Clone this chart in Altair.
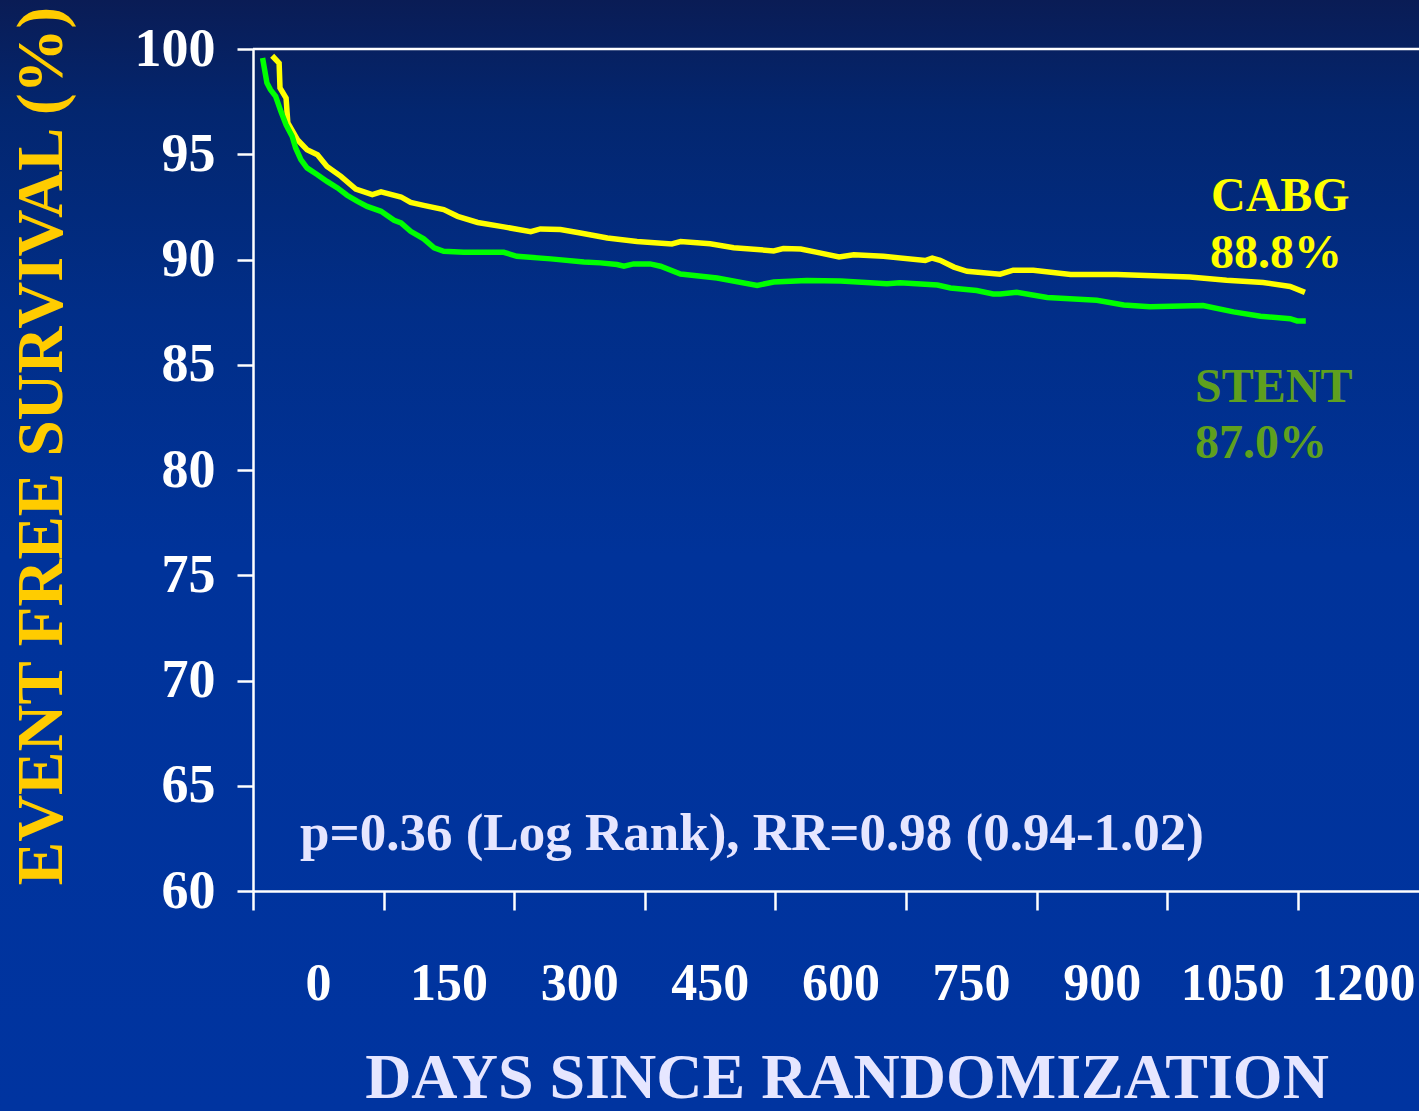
import altair as alt
import pandas as pd

# Kaplan-Meier style event free survival curves (days, percent)
cabg_days = [22, 30, 31, 38, 40, 51, 62, 74, 85, 101, 118, 137, 147, 170, 181, 196,
             219, 235, 258, 288, 319, 330, 353, 376, 407, 441, 481, 491, 525, 552,
             598, 609, 629, 648, 673, 690, 724, 772, 780, 789, 805, 820, 858, 873,
             896, 939, 992, 1076, 1118, 1160, 1191, 1208]
cabg_surv = [99.68, 99.33, 98.15, 97.67, 96.49, 95.69, 95.22, 94.98, 94.42, 93.95,
             93.35, 93.08, 93.21, 92.97, 92.71, 92.57, 92.37, 92.05, 91.76, 91.55,
             91.32, 91.45, 91.42, 91.26, 91.02, 90.86, 90.74, 90.85, 90.75, 90.56,
             90.41, 90.52, 90.50, 90.34, 90.12, 90.22, 90.15, 89.95, 90.07, 89.96,
             89.64, 89.44, 89.30, 89.49, 89.49, 89.29, 89.29, 89.17, 89.01, 88.91,
             88.72, 88.44]

stent_days = [11, 16, 20, 26, 32, 38, 45, 49, 55, 62, 74, 85, 97, 108, 120, 131,
              147, 162, 170, 181, 196, 208, 219, 242, 288, 303, 342, 380, 399, 418,
              426, 437, 456, 468, 491, 533, 579, 598, 636, 675, 728, 743, 786, 801,
              831, 850, 858, 877, 912, 969, 1000, 1030, 1091, 1126, 1157, 1191,
              1199, 1209]
stent_surv = [99.57, 98.39, 98.07, 97.75, 97.04, 96.40, 95.85, 95.30, 94.74, 94.35,
              94.03, 93.71, 93.40, 93.05, 92.76, 92.52, 92.29, 91.86, 91.74, 91.34,
              90.98, 90.55, 90.39, 90.34, 90.34, 90.15, 90.03, 89.88, 89.84, 89.76,
              89.68, 89.79, 89.79, 89.68, 89.31, 89.12, 88.77, 88.93, 89.00, 88.98,
              88.85, 88.90, 88.79, 88.65, 88.53, 88.36, 88.36, 88.44, 88.20, 88.06,
              87.84, 87.75, 87.81, 87.51, 87.30, 87.19, 87.08, 87.08]

groups = ["CABG", "STENT"]
line_colors = ["#ffff00", "#00ff00"]
x_ticks = [0, 150, 300, 450, 600, 750, 900, 1050, 1200]
y_ticks = [60, 65, 70, 75, 80, 85, 90, 95, 100]

curves = pd.DataFrame({
    "day": cabg_days + stent_days,
    "survival": cabg_surv + stent_surv,
    "group": ["CABG"] * len(cabg_days) + ["STENT"] * len(stent_days),
})

W, H = 1166, 842
PAD_L, PAD_T, PAD_B = 253, 49, 220
SERIF = "Liberation Serif"

one = pd.DataFrame({"k": [0]})

# slide background: navy at the top fading into royal blue
background = alt.Chart(one).mark_rect(
    fill=alt.Gradient(
        gradient="linear",
        stops=[
            alt.GradientStop(color="#0a1c55", offset=0),
            alt.GradientStop(color="#03266f", offset=0.1),
            alt.GradientStop(color="#012e88", offset=0.28),
            alt.GradientStop(color="#00339a", offset=0.5),
            alt.GradientStop(color="#0034a0", offset=1),
        ],
        x1=0, y1=0, x2=0, y2=1,
    ),
    strokeWidth=0,
).encode(
    x=alt.value(-PAD_L), x2=alt.value(W),
    y=alt.value(-PAD_T), y2=alt.value(H + PAD_B),
)

x_scale = alt.Scale(domain=[0, 1339], nice=False, zero=False)
y_scale = alt.Scale(domain=[60, 100], nice=False, zero=False)

lines = alt.Chart(curves).mark_line(strokeWidth=5.5, clip=True).encode(
    x=alt.X("day:Q", scale=x_scale, axis=alt.Axis(
        values=x_ticks, format="d", title=None, grid=False, zindex=2,
        domainColor="white", domainWidth=2.5,
        tickColor="white", tickWidth=2.5, tickSize=19,
        labelFont=SERIF, labelFontWeight="bold", labelFontSize=52,
        labelColor="white", labelOffset=65, labelPadding=89,
        labelBaseline="alphabetic", labelFlush=False, labelOverlap=False,
    )),
    y=alt.Y("survival:Q", scale=y_scale, axis=alt.Axis(
        values=y_ticks, format="d", title=None, grid=False, zindex=2,
        domainColor="white", domainWidth=2.5,
        tickColor="white", tickWidth=2.5, tickSize=16,
        labelFont=SERIF, labelFontWeight="bold", labelFontSize=54,
        labelColor="white", labelPadding=22, labelAlign="right",
        labelFlush=False, labelOverlap=False,
    )),
    color=alt.Color("group:N", scale=alt.Scale(domain=groups, range=line_colors), legend=None),
    detail="group:N",
)

# top frame line at 100 %
top_rule = alt.Chart(one).mark_rule(color="white", strokeWidth=2.5).encode(
    y=alt.datum(100),
)


def label(text, x, y, size, color, align="left", angle=0):
    return alt.Chart(one).mark_text(
        text=text, font=SERIF, fontWeight="bold", fontSize=size, color=color,
        align=align, baseline="alphabetic", angle=angle,
    ).encode(x=alt.value(x), y=alt.value(y))


y_title = label("EVENT FREE SURVIVAL (%)", -191, 397, 65, "#ffcc00", align="center", angle=270)
x_title = label("DAYS SINCE RANDOMIZATION", 594, 1049, 64, "#e6e6ff", align="center")
stats = label("p=0.36 (Log Rank), RR=0.98 (0.94-1.02)", 47, 801, 53, "#e6e6ff")
cabg_name = label("CABG", 958, 162, 48, "#ffff00")
cabg_pct = label("88.8%", 957, 219, 48, "#ffff00")
stent_name = label("STENT", 942, 353, 48, "#5fa01e")
stent_pct = label("87.0%", 942, 409, 48, "#5fa01e")

chart = alt.layer(
    background, lines, top_rule,
    y_title, x_title, stats, cabg_name, cabg_pct, stent_name, stent_pct,
).properties(
    width=W, height=H,
    autosize=alt.AutoSizeParams(type="none"),
    padding={"left": PAD_L, "top": PAD_T, "right": 0, "bottom": PAD_B},
    background="#0034a0",
).configure_view(stroke=None)

chart.save("out.html", embed_options={"renderer": "svg", "actions": False})
